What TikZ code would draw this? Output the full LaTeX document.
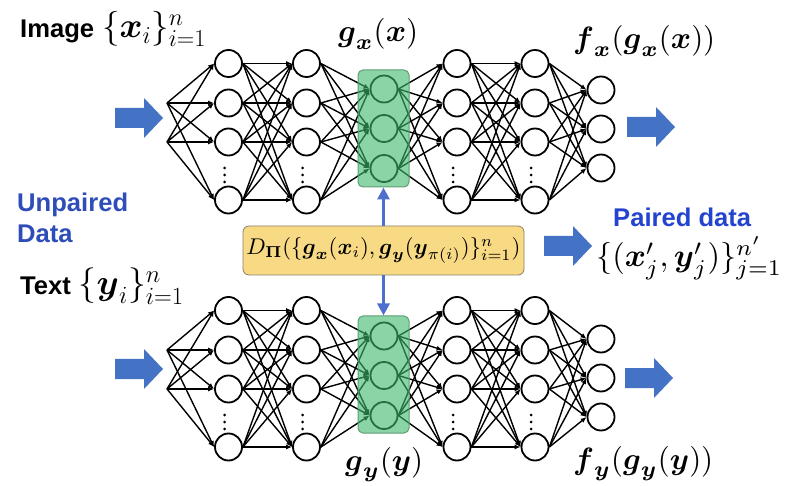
\documentclass[tikz,border=0pt]{standalone}
\usepackage{amsmath,amssymb}
\usepackage{fontspec}
\setsansfont{Liberation Sans}
\usetikzlibrary{arrows.meta}
\definecolor{blockblue}{HTML}{4472C4}
\definecolor{unpblue}{HTML}{2E4DB8}
\definecolor{pblue}{HTML}{2444D0}
\definecolor{gfill}{HTML}{3DB86A}
\definecolor{gborder}{HTML}{5E9E76}
\definecolor{yfill}{HTML}{F8DA85}
\definecolor{yborder}{HTML}{8A8068}
\definecolor{vblue}{HTML}{4F6FCC}
\newcommand{\bx}{\boldsymbol{x}}
\newcommand{\by}{\boldsymbol{y}}
\newcommand{\bg}{\boldsymbol{g}}
\newcommand{\bff}{\boldsymbol{f}}
\begin{document}
\begin{tikzpicture}[x=1pt,y=-1pt,
  neuron/.style={circle, draw=black, line width=1.8pt, fill=white, minimum size=27pt, inner sep=0pt},
  edge/.style={black, line width=1.4pt, -{Latex[length=6pt,width=5pt]}},
  gbox/.style={rounded corners=5pt, draw=gborder, line width=1pt, fill=gfill, fill opacity=0.6, minimum width=51pt, minimum height=117pt, inner sep=0pt},
  ybox/.style={rounded corners=6pt, draw=yborder, line width=0.8pt, fill=yfill, minimum width=281pt, minimum height=49pt, inner sep=0pt},
  vconn/.style={draw=vblue, line width=3.5pt, -{Triangle[length=12pt,width=12pt]}},
  sanslab/.style={font=\fontsize{25.6}{31}\selectfont\sffamily\bfseries, inner sep=0pt},
  mathlab/.style={inner sep=0pt},
  blockarrow/.pic={\fill[blockblue] (0,-10)--(29,-10)--(29,-20)--(48,0)--(29,20)--(29,10)--(0,10)--cycle;}
]
\useasboundingbox (0,0) rectangle (790,486);
\fill[white] (0,0) rectangle (790,486);

\foreach \p/\d/\o in {t/0/0, b/247/249} {
  \coordinate (\p in1) at (167,103+\d);
  \coordinate (\p in2) at (167,142+\d);
  \foreach \yy [count=\i] in {63.5,103,142,200} {
    \node[neuron] (\p a\i) at (228.5,\yy+\d) {};
    \node[neuron] (\p b\i) at (306.5,\yy+\d) {};
    \node[neuron] (\p d\i) at (457,\yy+\d) {};
    \node[neuron] (\p e\i) at (535,\yy+\d) {};
  }
  \foreach \yy [count=\i] in {89,128.5,168.5} {
    \node[neuron] (\p g\i) at (384,\yy+\d) {};
  }
  \foreach \yy [count=\i] in {90,129,168} {
    \node[neuron] (\p o\i) at (601,\yy+\o) {};
  }
  \foreach \xx in {224.5,302.5,453,531} {
    \foreach \yy in {168,175,182} {
      \fill (\xx,\yy+\d) circle[radius=1.5pt];
    }
  }
  \foreach \i in {1,2} {
    \foreach \j in {1,...,4} {
      \draw[edge] (\p in\i) -- (\p a\j.west);
    }
  }
  \foreach \i in {1,...,4} {
    \foreach \j in {1,...,4} {
      \draw[edge] (\p a\i.east) -- (\p b\j.west);
      \draw[edge] (\p d\i.east) -- (\p e\j.west);
    }
    \foreach \j in {1,2,3} {
      \draw[edge] (\p b\i.east) -- (\p g\j.west);
      \draw[edge] (\p g\j.east) -- (\p d\i.west);
      \draw[edge] (\p e\i.east) -- (\p o\j.west);
    }
  }
}
\node[gbox] (tG) at (383.5,128.5) {};
\node[gbox] (bG) at (383.5,374.5) {};

% block arrows
\pic at (115,118) {blockarrow};
\pic at (627,127) {blockarrow};
\pic at (115,369) {blockarrow};
\pic at (625,378) {blockarrow};
\pic at (544,246) {blockarrow};

% discriminator box
\node[ybox] (D) at (383.5,250.5) {\resizebox{274pt}{!}{$D_{\boldsymbol{\Pi}}(\{\bg_{\bx}(\bx_i),\bg_{\by}(\by_{\pi(i)})\}_{i=1}^{n})$}};
\draw[vconn] (D.north) -- (tG.south);
\draw[vconn] (D.south) -- (bG.north);

% labels
\node[sanslab, anchor=base west] (imglab) at (20,38) {Image\hspace{8pt}\resizebox{104pt}{!}{$\{\bx_i\}_{i=1}^{n}$}};
\node[sanslab, anchor=base west] (txtlab) at (20,295) {Text\hspace{8pt}\resizebox{105pt}{!}{$\{\by_i\}_{i=1}^{n}$}};
\node[sanslab, text=unpblue, anchor=north west, align=left] (unp) at (17,193) {Unpaired\\Data};
\node[sanslab, text=pblue, anchor=base west] (pd) at (613,227) {Paired data};
\node[mathlab, anchor=base west] (pm) at (596,267) {\resizebox{186pt}{!}{$\{(\bx'_j,\by'_j)\}_{j=1}^{n'}$}};
\node[mathlab, anchor=base west] (gx) at (338,42) {\resizebox{80pt}{!}{$\bg_{\bx}(\bx)$}};
\node[mathlab, anchor=base west] (fx) at (573,49) {\resizebox{142pt}{!}{$\bff_{\bx}(\bg_{\bx}(\bx))$}};
\node[mathlab, anchor=base west] (gy) at (345,470) {\resizebox{78pt}{!}{$\bg_{\by}(\by)$}};
\node[mathlab, anchor=base west] (fy) at (573,469) {\resizebox{140pt}{!}{$\bff_{\by}(\bg_{\by}(\by))$}};
\end{tikzpicture}
\end{document}
